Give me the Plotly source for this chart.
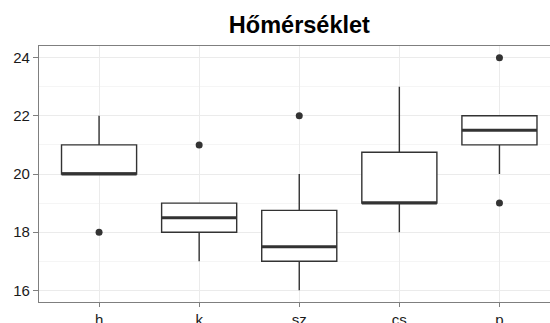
import plotly.graph_objects as go

categories = ["h", "k", "sz", "cs", "p"]
q1 = [20, 18, 17, 19, 21]
median = [20, 18.5, 17.5, 19, 21.5]
q3 = [21, 19, 18.75, 20.75, 22]
lower = [20, 17, 16, 18, 20]
upper = [22, 19, 20, 23, 22]
outlier_cat = ["h", "k", "sz", "p", "p"]
outlier_val = [18, 21, 22, 24, 19]
y_ticks = [16, 18, 20, 22, 24]

BOX_W = 0.75
LINE = "#333333"
pos = list(range(len(categories)))
idx = {c: i for i, c in enumerate(categories)}

fig = go.Figure()
fig.add_trace(go.Box(
    x=pos, q1=q1, median=median, q3=q3, lowerfence=lower, upperfence=upper,
    width=BOX_W, whiskerwidth=0, fillcolor="white",
    line=dict(color=LINE, width=1.4), boxpoints=False, hoverinfo="skip",
    showlegend=False,
))
mx, my = [], []
for i, m in zip(pos, median):
    mx += [i - BOX_W / 2, i + BOX_W / 2, None]
    my += [m, m, None]
fig.add_trace(go.Scatter(x=mx, y=my, mode="lines",
                         line=dict(color=LINE, width=3), showlegend=False,
                         hoverinfo="skip"))
fig.add_trace(go.Scatter(x=[idx[c] for c in outlier_cat], y=outlier_val,
                         mode="markers", marker=dict(color=LINE, size=7),
                         showlegend=False))

fig.update_layout(
    width=550, height=323,
    margin=dict(l=39, r=0, t=46, b=21, autoexpand=False),
    paper_bgcolor="white", plot_bgcolor="white",
    font=dict(family="Liberation Sans, Arial, sans-serif", color="#1a1a1a"),
    title=dict(text="<b>Hőmérséklet</b>", font=dict(size=23.5, color="black"),
               x=299.4 / 550, xref="container", xanchor="center",
               y=1 - 25 / 323, yref="container", yanchor="middle",
               automargin=False),
    xaxis=dict(range=[-0.6, 4.505], tickvals=pos, ticktext=categories,
               automargin=False,
               showgrid=True, gridcolor="#EBEBEB", gridwidth=1,
               showline=True, linecolor="#7F7F7F", linewidth=1.2, mirror=True,
               ticks="outside", ticklen=4, tickcolor="#7F7F7F", tickwidth=1.2,
               tickfont=dict(size=15, color="#1a1a1a"), zeroline=False),
    yaxis=dict(range=[15.6, 24.4], tickvals=y_ticks, automargin=False,
               showgrid=True, gridcolor="#EBEBEB", gridwidth=1,
               minor=dict(dtick=1, tick0=0, showgrid=True, gridcolor="#F5F5F5",
                          gridwidth=1, ticks=""),
               showline=True, linecolor="#7F7F7F", linewidth=1.2, mirror=False,
               ticks="outside", ticklen=5, tickcolor="#7F7F7F", tickwidth=1.2,
               tickfont=dict(size=15, color="#1a1a1a"), zeroline=False),
)
fig.write_html("out.html", config={"displayModeBar": False},
               post_script="document.body.style.margin='0';document.body.style.overflow='hidden';")
